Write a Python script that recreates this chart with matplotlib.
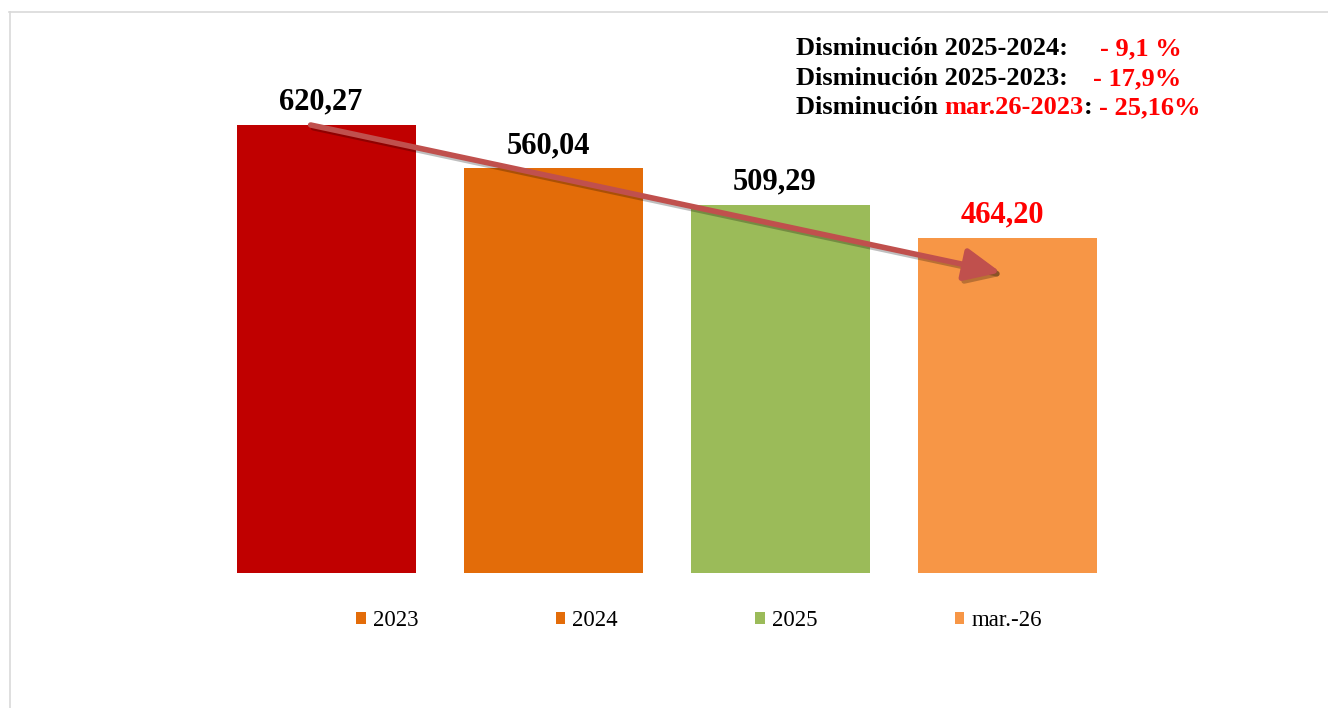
import matplotlib.pyplot as plt
from matplotlib.patches import Patch
from matplotlib.lines import Line2D
import matplotlib.patheffects as pe

plt.rcParams['font.family'] = ['Liberation Serif', 'DejaVu Serif']

# data
periodos = ['2023', '2024', '2025', 'mar.-26']
valores = [620.27, 560.04, 509.29, 464.20]
etiquetas = ['620,27', '560,04', '509,29', '464,20']
colores_barra = ['#C00000', '#E36C09', '#9BBB59', '#F79646']
colores_leyenda = ['#E36C09', '#E36C09', '#9BBB59', '#F79646']
colores_etiqueta = ['black', 'black', 'black', '#FF0000']

W, H = 1328, 708
fig = plt.figure(figsize=(W / 100, H / 100), dpi=100)
ax = fig.add_axes([213 / W, (H - 573) / H, 908 / W, 505.6 / H])

x = range(len(valores))
ax.bar(x, valores, width=0.79, color=colores_barra)
ax.set_xlim(-0.5, 3.5)
ax.set_ylim(0, 700)
ax.axis('off')

for i, v in enumerate(valores):
    ax.annotate(etiquetas[i], (i, v), xytext=(-4, 6), textcoords='offset points',
                ha='center', va='bottom', fontsize=22, fontweight='bold',
                color=colores_etiqueta[i])

# trend arrow from first to last bar
ax.annotate('', xy=(3 - 0.03, valores[3] - 48), xytext=(-0.07, valores[0]),
            arrowprops=dict(arrowstyle='-|>,head_length=1.1,head_width=0.5',
                            mutation_scale=20, color='#C0504D', lw=4, shrinkA=0, shrinkB=0,
                            path_effects=[pe.SimpleLineShadow(offset=(2, -2), alpha=0.25),
                                          pe.Normal()]))

# legend
handles = [Patch(facecolor=c, edgecolor='none') for c in colores_leyenda]
fig.legend(handles, periodos, loc='center', bbox_to_anchor=(699 / W, (H - 621) / H),
           ncol=4, frameon=False, fontsize=16.5, handlelength=0.42, handleheight=0.42,
           handletextpad=0.3, columnspacing=6.0)

# text box in the top right
fs = 19
def px(xp, yp):
    return xp / W, (H - yp) / H

fig.text(*px(796, 55), 'Disminución 2025-2024:', fontsize=fs, fontweight='bold')
fig.text(*px(1100, 55), '- 9,1 %', fontsize=fs, fontweight='bold', color='#FF0000')
fig.text(*px(796, 85), 'Disminución 2025-2023:', fontsize=fs, fontweight='bold')
fig.text(*px(1093, 85), '- 17,9%', fontsize=fs, fontweight='bold', color='#FF0000')

# third line in mixed colours, each piece placed after the previous one
prev = fig.text(*px(796, 114), 'Disminución ', fontsize=fs, fontweight='bold')
for trozo, col in [('mar.26-2023', '#FF0000'), (': ', 'black'), ('- 25,16%', '#FF0000')]:
    prev = ax.annotate(trozo, xy=(1, 0), xycoords=prev, va='bottom', ha='left',
                       fontsize=fs, fontweight='bold', color=col, annotation_clip=False)

# thin frame lines (top and left)
fig.add_artist(Line2D([9 / W, 1], [1 - 12 / H, 1 - 12 / H], color='#D9D9D9', lw=1.2))
fig.add_artist(Line2D([9.5 / W, 9.5 / W], [0, 1 - 12 / H], color='#D9D9D9', lw=1.2))

fig.savefig('out.png', dpi=100)
